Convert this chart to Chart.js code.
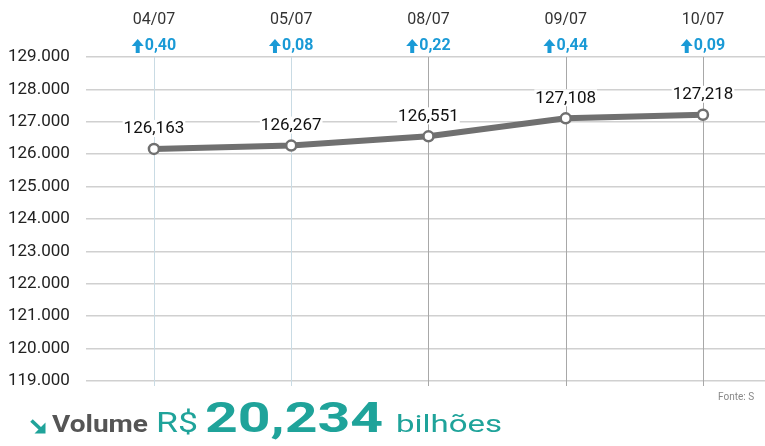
<!DOCTYPE html>
<html>
<head>
<meta charset="utf-8">
<script src="https://cdn.jsdelivr.net/npm/chart.js@4/dist/chart.umd.min.js"></script>
<style>
html,body{margin:0;padding:0;background:#fff;}
#wrap{position:relative;width:765px;height:446px;overflow:hidden;}
#c{position:absolute;left:0;top:0;}
.bt{position:absolute;white-space:nowrap;font-family:Roboto,sans-serif;line-height:1;transform-origin:0 0;color:#1fa39a;}
#fonte{position:absolute;left:718px;top:391px;font-family:Roboto,sans-serif;font-size:10px;color:#888;white-space:nowrap;}
</style>
</head>
<body>
<div id="wrap">
<canvas id="c" width="765" height="446"></canvas>
<svg style="position:absolute;left:29px;top:419px" width="19" height="16" viewBox="0 0 19 16">
  <path d="M2.5 1.5 L11.5 10" stroke="#1fa39a" stroke-width="3.6" fill="none"/>
  <path d="M5.5 14.5 L16.5 14.5 L16.5 3.5 Z" fill="#1fa39a"/>
</svg>
<span class="bt" data-w="96" style="left:52px;font-weight:bold;font-size:23px;color:#555;">Volume</span>
<span class="bt" data-w="42" style="left:156px;font-size:27px;">R$</span>
<span class="bt" data-w="178" style="left:205px;font-weight:bold;font-size:42px;">20,234</span>
<span class="bt" data-w="106" style="left:396px;font-size:24px;">bilhões</span>
<div id="fonte">Fonte: S</div>
</div>
<script>
const dates = ['04/07','05/07','08/07','09/07','10/07'];
const changes = ['0,40','0,08','0,22','0,44','0,09'];
const values = [126163, 126267, 126551, 127108, 127218];
const valueLabels = ['126,163','126,267','126,551','127,108','127,218'];
const yTicks = [119000,120000,121000,122000,123000,124000,125000,126000,127000,128000,129000];

document.querySelectorAll('.bt').forEach(el => {
  const r = el.getBoundingClientRect();
  const sx = parseFloat(el.dataset.w) / r.width;
  const fs = parseFloat(el.style.fontSize);
  el.style.top = (433 - fs * 0.86) + 'px';
  el.style.transform = 'scaleX(' + sx.toFixed(3) + ')';
});

const vLinesPlugin = {
  id: 'vlines',
  beforeDatasetsDraw(chart) {
    const ctx = chart.ctx;
    const xs = chart.scales.x;
    const ys = chart.scales.y;
    const top = ys.getPixelForValue(yTicks[yTicks.length - 1]);
    const bottom = ys.getPixelForValue(yTicks[0]) + 5;
    ctx.save();
    ctx.beginPath();
    ctx.rect(0, top, chart.width, bottom - top);
    ctx.clip();
    ctx.lineWidth = 1;
    dates.forEach((d, i) => {
      const x = Math.round(xs.getPixelForValue(i)) + 0.5;
      ctx.strokeStyle = i < 2 ? '#c9dbe4' : '#a8a8a8';
      ctx.beginPath();
      ctx.moveTo(x, top);
      ctx.lineTo(x, bottom);
      ctx.stroke();
    });
    ctx.restore();
  }
};

const headerPlugin = {
  id: 'headerLabels',
  afterDraw(chart) {
    const ctx = chart.ctx;
    const xs = chart.scales.x;
    const ys = chart.scales.y;
    const top = ys.getPixelForValue(yTicks[yTicks.length - 1]);
    ctx.save();
    // clean header band above the plot area
    ctx.fillStyle = '#fff';
    ctx.fillRect(chart.chartArea.left, 0, chart.width - chart.chartArea.left, top - 1);
    ctx.textBaseline = 'middle';
    dates.forEach((d, i) => {
      const x = xs.getPixelForValue(i);
      ctx.fillStyle = '#333';
      ctx.font = '16px Roboto, sans-serif';
      ctx.textAlign = 'center';
      ctx.fillText(d, x, 20);
      ctx.font = 'bold 16px Roboto, sans-serif';
      const tw = ctx.measureText(changes[i]).width;
      const aw = 12;
      const total = aw + 1 + tw;
      const x0 = x - total / 2;
      ctx.fillStyle = '#1a9ad6';
      ctx.beginPath();
      ctx.moveTo(x0 + aw / 2, 39);
      ctx.lineTo(x0 + aw, 46);
      ctx.lineTo(x0, 46);
      ctx.closePath();
      ctx.fill();
      ctx.fillRect(x0 + aw / 2 - 2, 45, 4, 8);
      ctx.textAlign = 'left';
      ctx.fillText(changes[i], x0 + aw + 1, 46);
    });
    ctx.restore();
  }
};

const labelPlugin = {
  id: 'valueLabels',
  afterDatasetsDraw(chart) {
    const ctx = chart.ctx;
    const meta = chart.getDatasetMeta(0);
    ctx.save();
    ctx.font = '17px Roboto, sans-serif';
    ctx.textAlign = 'center';
    ctx.textBaseline = 'middle';
    meta.data.forEach((pt, i) => {
      const t = valueLabels[i];
      const w = ctx.measureText(t).width;
      const y = pt.y - 20;
      ctx.fillStyle = '#fff';
      ctx.fillRect(pt.x - w/2 - 1, y - 9, w + 2, 17);
      ctx.fillStyle = '#111';
      ctx.fillText(t, pt.x, y);
    });
    ctx.restore();
  }
};

new Chart(document.getElementById('c'), {
  type: 'line',
  data: {
    datasets: [{
      data: values.map((v, i) => ({x: i, y: v})),
      borderColor: '#707070',
      borderWidth: 6,
      pointRadius: 5,
      pointBackgroundColor: '#fff',
      pointBorderColor: '#707070',
      pointBorderWidth: 2.5,
      tension: 0
    }]
  },
  options: {
    responsive: false,
    animation: false,
    layout: {autoPadding: false, padding: {left: 8, right: 0, top: 57, bottom: 60}},
    plugins: {legend: {display: false}, tooltip: {enabled: false}},
    scales: {
      x: {
        type: 'linear',
        min: -0.495,
        max: 4.452,
        afterBuildTicks(s) { s.ticks = dates.map((d, i) => ({value: i})); },
        afterFit(s) { s.height = 5; },
        border: {display: false},
        ticks: {display: false},
        grid: {display: false}
      },
      y: {
        min: 119000,
        max: 129000,
        afterBuildTicks(s) { s.ticks = yTicks.map(v => ({value: v})); },
        afterFit(s) { s.width = 78; },
        border: {display: false},
        grid: {color: '#d0d0d0', lineWidth: 1.5, drawTicks: false},
        ticks: {
          crossAlign: 'far',
          color: '#222',
          font: {family: 'Roboto', size: 17},
          padding: 0,
          callback: (v) => v.toLocaleString('de-DE')
        }
      }
    }
  },
  plugins: [vLinesPlugin, headerPlugin, labelPlugin]
});
</script>
</body>
</html>
